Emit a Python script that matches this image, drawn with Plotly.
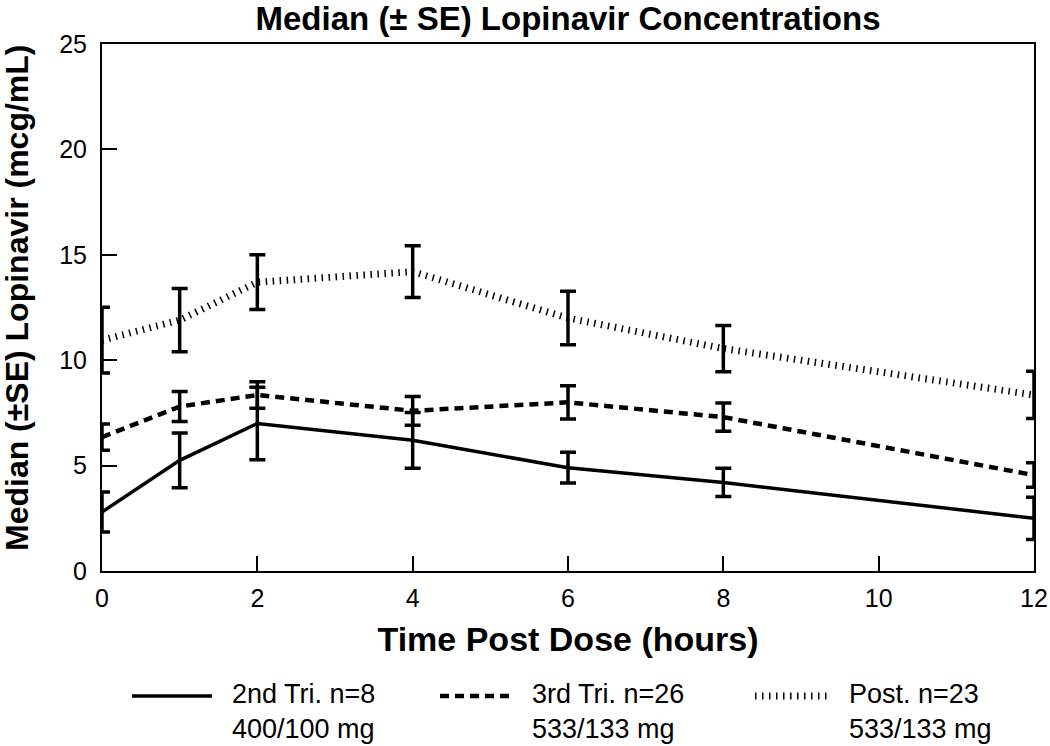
import plotly.graph_objects as go

# hours after dose
time = [0, 1, 2, 4, 6, 8, 12]

# median lopinavir (mcg/mL) and SE
tri2 = [2.8, 5.25, 7.0, 6.2, 4.9, 4.2, 2.5]
tri2_se = [0.95, 1.3, 1.72, 1.32, 0.73, 0.67, 1.0]
tri3 = [6.35, 7.8, 8.35, 7.6, 8.0, 7.3, 4.55]
tri3_se = [0.62, 0.71, 0.63, 0.68, 0.79, 0.67, 0.58]
post = [10.95, 11.9, 13.7, 14.2, 12.0, 10.55, 8.35]
post_se = [1.56, 1.5, 1.3, 1.23, 1.27, 1.1, 1.12]

labels = ['2nd Tri. n=8<br>400/100 mg',
          '3rd Tri. n=26<br>533/133 mg',
          'Post. n=23<br>533/133 mg']

FONT = 'Arial, Liberation Sans, sans-serif'

series = [
    (tri2, tri2_se, dict(color='black', width=3.5, dash='solid')),
    (tri3, tri3_se, dict(color='black', width=4.5, dash='9px,6px')),
    (post, post_se, dict(color='black', width=7, dash='1.5px,5.5px')),
]

fig = go.Figure()

for (vals, se, line), name in zip(series, labels):
    fig.add_trace(go.Scatter(
        x=time,
        y=vals,
        mode='lines',
        name=name,
        line=line,
        error_y=dict(type='data', array=se, visible=True,
                     color='black', thickness=3.5, width=8),
        cliponaxis=False,
        showlegend=False
    ))

plot_l, plot_r, plot_t, plot_b = 102, 1034, 44, 571


def px_to_paper_x(px):
    return (px - plot_l) / (plot_r - plot_l)


def px_to_paper_y(py):
    return (plot_b - py) / (plot_b - plot_t)


fig.update_layout(
    width=1050,
    height=746,
    paper_bgcolor='white',
    plot_bgcolor='white',
    margin=dict(l=plot_l, r=1050 - plot_r, t=plot_t, b=746 - plot_b),
    font=dict(family=FONT, color='black'),
    title=dict(text='<b>Median (± SE) Lopinavir Concentrations</b>',
               font=dict(size=33, family=FONT, color='black'),
               x=0.541, xanchor='center', y=0.975, yanchor='middle'),
    xaxis=dict(
        range=[0, 12],
        tickvals=[0, 2, 4, 6, 8, 10, 12],
        ticks='inside', ticklen=15, tickwidth=2, tickcolor='black',
        showline=True, linecolor='black', linewidth=2, mirror=True,
        showgrid=False, zeroline=False, automargin=False,
        tickfont=dict(size=25, family=FONT),
        ticklabelstandoff=4,
        title=dict(text='<b>Time Post Dose (hours)</b>',
                   font=dict(size=34, family=FONT), standoff=16)
    ),
    yaxis=dict(
        range=[0, 25],
        tickvals=[0, 5, 10, 15, 20, 25],
        ticks='inside', ticklen=15, tickwidth=2, tickcolor='black',
        showline=True, linecolor='black', linewidth=2, mirror=True,
        showgrid=False, zeroline=False, automargin=False,
        tickfont=dict(size=25, family=FONT),
        ticklabelstandoff=8
    )
)

# y-axis title placed as an annotation so it sits where the original has it
fig.add_annotation(xref='paper', yref='paper',
                   x=px_to_paper_x(17), y=px_to_paper_y(298),
                   xanchor='center', yanchor='middle', textangle=-90,
                   text='<b>Median (±SE) Lopinavir (mcg/mL)</b>',
                   showarrow=False,
                   font=dict(size=32, family=FONT, color='black'))

# hand-drawn legend below the axes (long line samples, two-line labels)
legend_x = [(132, 212, 230), (440, 510, 530), (755, 828, 847)]

for (x0, x1, tx), (_, _, line), name in zip(legend_x, series, labels):
    fig.add_shape(type='line', xref='paper', yref='paper',
                  x0=px_to_paper_x(x0), x1=px_to_paper_x(x1),
                  y0=px_to_paper_y(696), y1=px_to_paper_y(696),
                  line=line)
    fig.add_annotation(xref='paper', yref='paper',
                       x=px_to_paper_x(tx), y=px_to_paper_y(677),
                       xanchor='left', yanchor='top', align='left',
                       text=name, showarrow=False,
                       font=dict(size=27, family=FONT, color='black'))

# drop the default 8px page margin so the figure fills the window
fig.write_html("out.html", config={'displayModeBar': False},
               post_script="document.body.style.margin='0';")
